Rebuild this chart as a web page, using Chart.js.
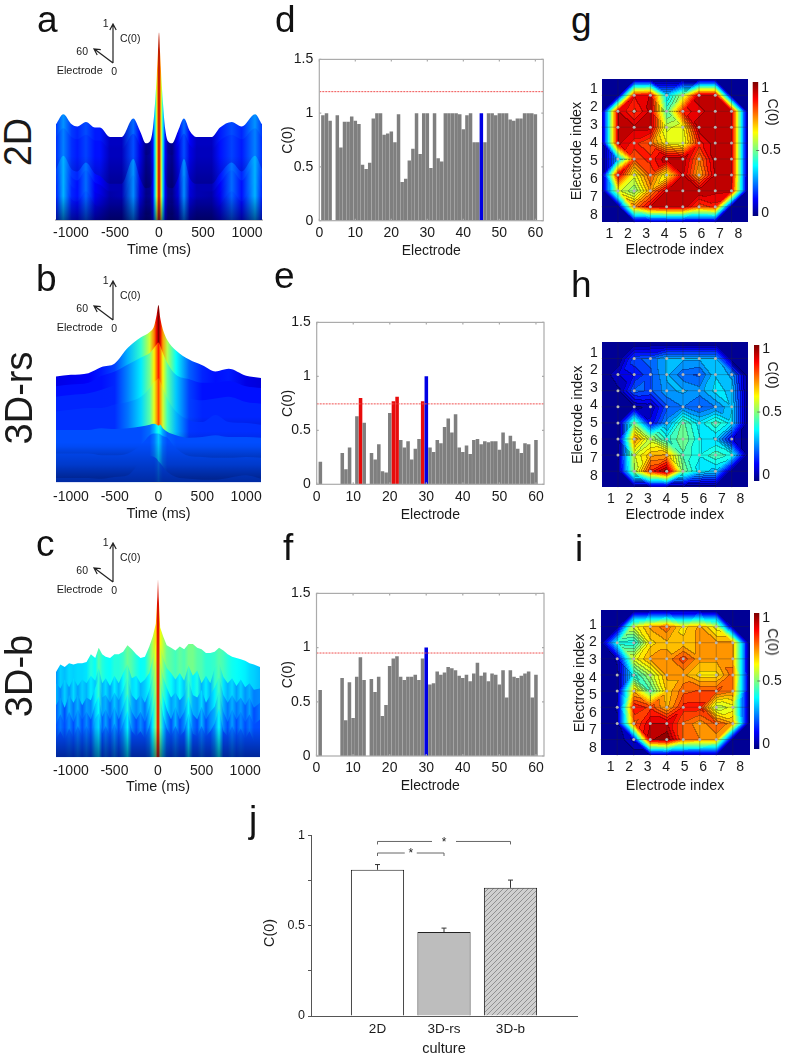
<!DOCTYPE html>
<html>
<head>
<meta charset="utf-8">
<title>C(0) panels</title>
<script src="https://cdn.jsdelivr.net/npm/chart.js@4"></script>
<style>
  html, body { margin: 0; padding: 0; background: #fff; }
  body { position: relative; width: 785px; height: 1058px; overflow: hidden; font-family: "Liberation Sans", Arial, sans-serif; color: #1a1a1a; }
  canvas { position: absolute; }
  .txt { position: absolute; white-space: nowrap; line-height: 1; }
</style>
</head>
<body>
<script>
// ---- bar panels d, e, f (electrode 1..60)
const electrodes = [1,2,3,4,5,6,7,8,9,10,11,12,13,14,15,16,17,18,19,20,21,22,23,24,25,26,27,28,29,30,31,32,33,34,35,36,37,38,39,40,41,42,43,44,45,46,47,48,49,50,51,52,53,54,55,56,57,58,59,60];
const barD = [.98,1,.93,0,.98,.68,.92,.92,.97,.93,.9,.52,.48,.54,.95,1,1,.8,.81,.83,.73,.99,.36,.39,.56,.67,1,.62,1,1,.49,1,.58,.55,1,1,1,1,.99,.85,.98,1,.73,.73,1,.73,1,1,.98,1,1,1,.94,.93,.95,.95,1,1,1,.99];
const barE = [.21,0,0,0,0,0,.29,.14,.34,0,.63,.8,.57,0,.29,.23,.37,.12,.11,.66,.77,.81,.41,.34,.4,.23,.33,.42,.77,1,.34,.3,.41,.38,.53,.61,.48,.65,.34,.3,.36,.28,.41,.42,.37,.4,.39,.4,.4,.32,.48,.38,.45,.4,.33,.29,.38,.37,.11,.41];
const barF = [.61,0,0,0,0,0,.72,.33,.68,.35,.73,.91,.7,0,.71,.59,.73,.37,.47,.83,.9,.92,.73,.7,.73,.73,.75,.7,.9,1,.66,.67,.78,.75,.77,.82,.81,.79,.74,.72,.75,.69,.76,.86,.74,.77,.69,.76,.75,.66,.79,.54,.79,.73,.72,.74,.76,.78,.54,.75];
const blueD = [45], blueE = [30], blueF = [30];
const redE = [12,21,22,29];
const limitD = 1.2, limitE = 0.745, limitF = 0.95;
const electrodeTicks = [0,10,20,30,40,50,60];
const c0Ticks = [0,0.5,1,1.5];

// ---- heat panels g, h, i (8 x 8 electrode map, rows top to bottom)
const heatG = [
  [0,.88,.92,.33,.55,.95,.95,0],
  [.92,.82,.93,.45,.85,.9,.95,.95],
  [.93,.93,.93,.57,.62,.95,.95,.95],
  [.93,.85,.78,.62,.58,.85,.95,.95],
  [.3,.8,.85,.95,.95,.75,.95,.95],
  [.92,.6,.8,.6,.92,.7,.93,.95],
  [.6,.5,.72,.93,.95,.95,.93,.92],
  [0,.75,.92,.95,.95,.8,.85,0]];
const heatH = [
  [0,.2,.22,.3,.3,.3,.3,0],
  [.08,.13,.2,.3,.22,.2,.33,.28],
  [.03,.22,.2,.28,.3,.27,.35,.32],
  [.02,.03,.05,.2,.25,.2,.25,.33],
  [.02,.5,.1,.27,.47,.35,.45,.35],
  [.02,.75,.55,.4,.5,.38,.33,.1],
  [.03,.58,.7,.72,.45,.38,.45,.4],
  [0,.55,.85,1,.5,.35,.32,0]];
const heatI = [
  [0,.6,.72,.78,.65,.72,.6,0],
  [.4,.38,.65,.7,.68,.72,.72,.72],
  [.05,.6,.72,.72,.82,.72,.72,.72],
  [.03,.4,.55,.72,.72,.65,.65,.78],
  [.03,.7,.45,.68,.78,.8,.8,.75],
  [.05,.88,.82,.7,.85,.85,.55,.6],
  [.03,.78,.92,.92,.78,.72,.8,.72],
  [0,.1,.95,1,.78,.75,.72,0]];
const indexTicks = [1,2,3,4,5,6,7,8];
const colorTicks = [0,0.5,1];

// ---- waterfall panels a, b, c (back layer first)
const timeTicks = [-1000,-500,0,500,1000];
const timeA = [-1170,-1087,-992,-928,-830,-727,-670,-557,-424,-292,-216,-148,-100,-70,-45,-25,-12,0,12,25,45,70,100,148,216,284,350,428,598,693,826,939,1091,1170];
const layerA0 = [.18,.27,.18,.16,.2,.15,.15,.065,.065,.23,.12,.01,.03,.14,.37,.62,.82,1,.82,.62,.37,.14,.03,.01,.12,.23,.12,.065,.065,.15,.2,.16,.27,.18];
const layerA1 = [.17,.25,.17,.15,.19,.14,.14,.06,.06,.2,.1,.01,.03,.13,.36,.6,.8,.97,.8,.6,.36,.13,.03,.01,.1,.2,.1,.06,.06,.14,.19,.15,.25,.17];
const layerA2 = [.18,.3,.18,.16,.24,.14,.12,.05,.05,.27,.1,.01,.02,.12,.35,.6,.8,.96,.8,.6,.35,.12,.02,.01,.1,.27,.1,.05,.05,.14,.24,.16,.3,.18];
const layerA3 = [.17,.3,.17,.14,.23,.12,.1,.04,.05,.27,.09,.01,.02,.12,.35,.6,.8,.96,.8,.6,.35,.12,.02,.01,.09,.27,.09,.05,.04,.12,.23,.14,.3,.17];
const layerA4 = [.16,.3,.16,.14,.23,.11,.09,.04,.04,.26,.08,.01,.02,.11,.34,.59,.8,.95,.8,.59,.34,.11,.02,.01,.08,.26,.08,.04,.04,.11,.23,.14,.3,.16];
const layerA5 = [.15,.3,.15,.13,.22,.1,.08,.03,.03,.26,.07,.01,.02,.11,.34,.58,.79,.95,.79,.58,.34,.11,.02,.01,.07,.26,.07,.03,.03,.1,.22,.13,.3,.15];
const offsetsA = [.676,.571,.274,.214,.14,.036];

const timeB = [-1170,-1000,-800,-650,-500,-350,-200,-100,-50,-20,0,20,50,100,200,350,500,650,800,1000,1170];
const layerB0 = [.18,.2,.22,.29,.33,.51,.63,.69,.76,.89,1,.85,.72,.6,.48,.375,.31,.24,.27,.19,.165];
const layerB1 = [.21,.23,.25,.33,.38,.46,.54,.59,.65,.69,.71,.67,.59,.48,.34,.29,.25,.25,.27,.21,.19];
const layerB2 = [.23,.25,.27,.31,.36,.42,.5,.55,.59,.6,.62,.59,.52,.42,.27,.21,.19,.21,.23,.17,.15];
const layerB3 = [.23,.25,.27,.27,.31,.34,.4,.5,.57,.59,.61,.57,.5,.38,.23,.13,.11,.19,.11,.1,.08];
const layerB4 = [.19,.19,.19,.21,.2,.21,.23,.25,.26,.25,.24,.25,.21,.17,.13,.1,.11,.13,.11,.11,.1];
const layerB5 = [.13,.13,.13,.11,.11,.13,.23,.34,.36,.36,.36,.35,.33,.31,.19,.1,.09,.08,.08,.09,.08];
const layerB6 = [.05,.05,.05,.04,.06,.08,.24,.3,.29,.27,.24,.22,.18,.12,.06,.04,.03,.03,.05,.08,.04];
const offsetsB = [1.03,.89,.75,.58,.41,.2,0];
const toneB = [.1,.11,.12,.15,.19,.3,.42,.58,.75,.9,1,.9,.72,.55,.38,.22,.16,.14,.15,.1,.09];
const toneScaleB = [1,.85,.85,.8,.4,.32,.24];
const toneFloorB = [.09,.14,.16,.17,.2,.2,.2];

const timeC = [-1170,-1120,-1070,-1020,-970,-920,-870,-820,-770,-720,-680,-640,-600,-550,-500,-450,-400,-350,-300,-250,-200,-150,-100,-60,-25,-8,0,8,25,60,100,150,200,250,300,350,400,450,500,550,600,650,700,750,800,850,900,950,1000,1050,1100,1170];
const layerC0 = [.27,.33,.31,.34,.33,.34,.34,.35,.41,.38,.46,.41,.39,.38,.41,.41,.43,.48,.45,.41,.38,.39,.47,.55,.65,.85,1,.85,.62,.55,.48,.46,.44,.47,.45,.49,.49,.46,.45,.42,.42,.43,.46,.44,.41,.39,.38,.37,.36,.34,.33,.31];
const layerC1 = [.3,.26,.33,.27,.34,.28,.33,.3,.36,.32,.42,.3,.34,.28,.36,.3,.38,.45,.34,.36,.3,.33,.38,.5,.62,.85,.98,.85,.6,.5,.42,.38,.33,.38,.32,.44,.36,.4,.3,.36,.3,.42,.46,.35,.3,.34,.28,.33,.27,.3,.25,.26];
const layerC2 = [.22,.28,.2,.3,.24,.3,.22,.28,.26,.36,.42,.28,.3,.24,.32,.26,.34,.44,.3,.26,.3,.24,.34,.46,.58,.85,.98,.85,.56,.44,.36,.28,.32,.26,.3,.42,.3,.28,.34,.24,.3,.36,.44,.3,.24,.3,.24,.28,.22,.28,.2,.24];
const layerC3 = [.16,.24,.16,.26,.18,.28,.2,.26,.2,.32,.38,.22,.28,.2,.3,.2,.3,.4,.26,.2,.26,.18,.3,.42,.55,.85,.98,.85,.52,.38,.28,.2,.3,.2,.26,.38,.24,.2,.3,.2,.26,.3,.42,.26,.18,.28,.2,.26,.18,.24,.16,.2];
const layerC4 = [.14,.2,.13,.22,.15,.24,.16,.24,.16,.3,.34,.18,.24,.16,.26,.16,.26,.36,.2,.16,.2,.14,.24,.36,.5,.82,.98,.82,.46,.32,.22,.16,.24,.16,.2,.34,.18,.16,.24,.16,.2,.26,.38,.2,.16,.24,.16,.22,.14,.2,.12,.16];
const offsetsC = [.398,.28,.188,.097,.005];

// ---- panel j
const cultures = ['', '2D', '3D-rs', '3D-b', ''];
const cultureMeans = [null, .81, .465, .71, null];
const cultureTops = [null, .839, .487, .753, null];
const meanTicks = [0,.25,.5,.75,1];
const meanLabels = ['0','','0.5','','1'];

Chart.defaults.font.family = '"Liberation Sans", Arial, sans-serif';
Chart.defaults.font.size = 14;
Chart.defaults.color = '#1a1a1a';
Chart.defaults.animation = false;
Chart.defaults.responsive = false;
Chart.defaults.devicePixelRatio = 1;
Chart.defaults.plugins.legend.display = false;
Chart.defaults.plugins.tooltip.enabled = false;
Chart.defaults.layout.autoPadding = false;

function addCanvas(x, y, w, h) {
  w = Math.ceil(w); h = Math.ceil(h);
  const c = document.createElement('canvas');
  c.width = w; c.height = h;
  c.style.left = x + 'px'; c.style.top = y + 'px';
  c.style.width = w + 'px'; c.style.height = h + 'px';
  document.body.appendChild(c);
  return c;
}
function addText(t, x, y, size, rot) {
  const d = document.createElement('div');
  d.className = 'txt';
  d.textContent = t;
  d.style.left = x + 'px'; d.style.top = y + 'px';
  d.style.fontSize = size + 'px';
  d.style.transform = 'translate(-50%,-50%)' + (rot ? ' rotate(' + rot + 'deg)' : '');
  document.body.appendChild(d);
}
// panel letters sit on a baseline
function addLetter(t, x, base) {
  const d = document.createElement('div');
  d.className = 'txt';
  d.textContent = t;
  d.style.left = x + 'px'; d.style.top = (base - 31.3) + 'px';
  d.style.fontSize = '37px';
  d.style.color = '#111';
  document.body.appendChild(d);
}
const setTicks = vals => axis => { axis.ticks = vals.map(v => ({ value: v })); };
const fitH = h => s => { s.height = h; };
const fitW = w => s => { s.width = w; };

function jet(v) {
  const cl = a => Math.max(0, Math.min(1, a));
  return [cl(Math.min(4 * v - 1.5, -4 * v + 4.5)) * 255,
          cl(Math.min(4 * v - 0.5, -4 * v + 3.5)) * 255,
          cl(Math.min(4 * v + 0.5, -4 * v + 2.5)) * 255];
}
const jetCss = v => { const c = jet(v); return 'rgb(' + c[0] + ',' + c[1] + ',' + c[2] + ')'; };

// grey box with little inward ticks
const framePlugin = {
  id: 'frame',
  afterDatasetsDraw(chart) {
    const a = chart.chartArea, c = chart.ctx, sx = chart.scales.x, sy = chart.scales.y;
    c.save();
    c.strokeStyle = '#ababab'; c.lineWidth = 1.2;
    c.strokeRect(a.left, a.top, a.right - a.left, a.bottom - a.top);
    c.beginPath();
    electrodeTicks.forEach(v => {
      const p = sx.getPixelForValue(v);
      c.moveTo(p, a.top); c.lineTo(p, a.top + 2);
      c.moveTo(p, a.bottom); c.lineTo(p, a.bottom - 2);
    });
    c0Ticks.forEach(v => {
      const p = sy.getPixelForValue(v);
      c.moveTo(a.left, p); c.lineTo(a.left + 2, p);
      c.moveTo(a.right, p); c.lineTo(a.right - 2, p);
    });
    c.stroke();
    c.restore();
  }
};

function barPanel(box, vals, blue, red, limit) {
  const cx = 280, cy = Math.floor(box.top) - 10, w = 270, axisH = 39;
  const cv = addCanvas(cx, cy, w, box.bottom + axisH - cy);
  const colors = electrodes.map(e => blue.includes(e) ? '#0000e4' : (red.includes(e) ? '#e80c0c' : '#7f7f7f'));
  new Chart(cv, {
    data: {
      datasets: [
        { type: 'line', data: [{ x: 0, y: limit }, { x: 62.2, y: limit }], borderColor: '#f05050', borderWidth: 1, borderDash: [2, 1], pointRadius: 0 },
        { type: 'bar', data: electrodes.map((e, i) => ({ x: e, y: vals[i] })), backgroundColor: colors, barPercentage: 0.97, categoryPercentage: 1, grouped: false }
      ]
    },
    options: {
      layout: { padding: { top: box.top - cy, right: cx + w - box.right, bottom: cv.height - (box.bottom - cy) - axisH } },
      scales: {
        x: { type: 'linear', min: 0, max: 62.2, offset: false, bounds: 'data', afterBuildTicks: setTicks(electrodeTicks), afterFit: fitH(axisH),
             grid: { display: false, drawTicks: false }, border: { display: false },
             ticks: { padding: 4, maxRotation: 0, autoSkip: false, font: { size: 14 } },
             title: { display: true, text: 'Electrode', padding: 0, font: { size: 14 } } },
        y: { min: 0, max: 1.5, bounds: 'data', afterBuildTicks: setTicks(c0Ticks), afterFit: fitW(box.left - cx),
             grid: { display: false, drawTicks: false }, border: { display: false },
             ticks: { padding: 6, autoSkip: false, callback: v => String(v), font: { size: 14 } },
             title: { display: true, text: 'C(0)', padding: 0, font: { size: 14 } } }
      }
    },
    plugins: [framePlugin]
  });
}

// filled contour map, nodes 1..8 with a zero rim at 0 and 9
function heatPlugin(vals) {
  const at = (r, c) => (r < 0 || r > 7 || c < 0 || c > 7) ? 0 : vals[r][c];
  const levels = 24;
  // each cell is cut into two triangles so the contours come out straight
  const sample = (u, v) => {
    const cf = Math.min(8, Math.floor(u)), rf = Math.min(8, Math.floor(v));
    const du = u - cf, dv = v - rf;
    const a = at(rf - 1, cf - 1), b = at(rf - 1, cf), c = at(rf, cf - 1), d = at(rf, cf);
    if (Math.abs(a - d) <= Math.abs(b - c)) {
      if (du >= dv) return a + du * (b - a) + dv * (d - b);
      return a + dv * (c - a) + du * (d - c);
    }
    if (du + dv <= 1) return a + du * (b - a) + dv * (c - a);
    return d + (1 - du) * (c - d) + (1 - dv) * (b - d);
  };
  return {
    id: 'heat',
    beforeDatasetsDraw(chart) {
      const a = chart.chartArea, sx = chart.scales.x2, sy = chart.scales.y2;
      const L = Math.round(a.left), T = Math.round(a.top);
      const W = Math.round(a.right - a.left), H = Math.round(a.bottom - a.top);
      const off = document.createElement('canvas');
      off.width = W; off.height = H;
      const oc = off.getContext('2d');
      const img = oc.createImageData(W, H);
      const field = new Float32Array(W * H);
      for (let y = 0; y < H; y++) {
        const v = sy.getValueForPixel(T + y + 0.5);
        for (let x = 0; x < W; x++) field[y * W + x] = sample(sx.getValueForPixel(L + x + 0.5), v);
      }
      for (let y = 0; y < H; y++) {
        for (let x = 0; x < W; x++) {
          const f = field[y * W + x], lv = Math.min(levels - 1, Math.floor(f * levels));
          let col = jet((lv + 0.5) / levels), k = 1;
          if (x > 0 && y > 0) {
            const fx = field[y * W + x - 1], fy = field[(y - 1) * W + x];
            const grad = Math.abs(f - fx) + Math.abs(f - fy);
            const lx = Math.floor(fx * levels), ly = Math.floor(fy * levels);
            if ((lx !== lv || ly !== lv) && grad < 0.035) k = 0.72;
          }
          const o = (y * W + x) * 4;
          img.data[o] = col[0] * k; img.data[o + 1] = col[1] * k; img.data[o + 2] = col[2] * k; img.data[o + 3] = 255;
        }
      }
      oc.putImageData(img, 0, 0);
      const c = chart.ctx;
      c.drawImage(off, L, T);
      c.save();
      c.strokeStyle = 'rgba(40,40,40,0.38)'; c.lineWidth = 0.8;
      c.beginPath();
      indexTicks.forEach(n => {
        const px = sx.getPixelForValue(n), py = sy.getPixelForValue(n);
        c.moveTo(px, a.top); c.lineTo(px, a.bottom);
        c.moveTo(a.left, py); c.lineTo(a.right, py);
      });
      c.stroke();
      c.restore();
    }
  };
}

function heatPanel(box, vals, xRange, yRange, tickY, axisH, titleX) {
  const cx = Math.floor(titleX - 8.5), cy = Math.floor(box.top) - 8;
  const cv = addCanvas(cx, cy, box.right - cx + 2, box.bottom + axisH - cy);
  const nodes = [];
  vals.forEach((row, r) => row.forEach((v, c) => { if (v > 0) nodes.push({ x: c + 1, y: r + 1 }); }));
  new Chart(cv, {
    type: 'scatter',
    data: { datasets: [{ data: nodes, xAxisID: 'x2', yAxisID: 'y2', pointRadius: 1.5, pointBorderWidth: 0, pointBackgroundColor: '#b4b4b4' }] },
    options: {
      layout: { padding: { top: box.top - cy, right: cx + cv.width - box.right, bottom: cv.height - (box.bottom - cy) - axisH } },
      scales: {
        x: { type: 'linear', min: xRange[0], max: xRange[1], bounds: 'data', afterBuildTicks: setTicks(indexTicks), afterFit: fitH(axisH),
             grid: { display: false, drawTicks: false }, border: { display: false },
             ticks: { padding: tickY, maxRotation: 0, autoSkip: false, callback: v => String(v), font: { size: 14 } },
             title: { display: true, text: 'Electrode index', padding: 0, font: { size: 14.3 } } },
        y: { type: 'linear', reverse: true, min: yRange[0], max: yRange[1], bounds: 'data', afterBuildTicks: setTicks(indexTicks), afterFit: fitW(box.left - cx),
             grid: { display: false, drawTicks: false }, border: { display: false },
             ticks: { padding: 4, autoSkip: false, callback: v => String(v), font: { size: 14 } },
             title: { display: true, text: 'Electrode index', padding: 0, font: { size: 14.3 } } },
        x2: { axis: 'x', type: 'linear', display: false, min: 0, max: 9 },
        y2: { axis: 'y', type: 'linear', display: false, reverse: true, min: 0, max: 9 }
      }
    },
    plugins: [heatPlugin(vals)]
  });
}

const colorBarPlugin = {
  id: 'colorBar',
  beforeDatasetsDraw(chart) {
    const a = chart.chartArea, c = chart.ctx, s = chart.scales.cb, t = chart.scales.y;
    for (let p = Math.round(a.top); p < a.bottom; p++) {
      c.fillStyle = jetCss(s.getValueForPixel(p + 0.5));
      c.fillRect(a.left, p, a.right - a.left, 1);
    }
    c.strokeStyle = '#555'; c.lineWidth = 0.8;
    c.beginPath();
    const p = t.getPixelForValue(0.5);
    c.moveTo(a.right - 2, p); c.lineTo(a.right + 1, p);
    c.stroke();
  }
};

function colorBar(left, right, top, bottom, range, titleY) {
  const cx = Math.floor(left) - 2, cy = Math.floor(top) - 4;
  const cv = addCanvas(cx, cy, 785 - cx, bottom - cy + 4);
  new Chart(cv, {
    type: 'scatter',
    data: { datasets: [] },
    options: {
      layout: { padding: { left: left - cx, top: top - cy, bottom: cv.height - (bottom - cy) } },
      scales: {
        x: { type: 'linear', display: false },
        y: { type: 'linear', position: 'right', min: range[0], max: range[1], bounds: 'data', afterBuildTicks: setTicks(colorTicks), afterFit: fitW(785 - right),
             grid: { display: false, drawTicks: false }, border: { display: false },
             ticks: { padding: 3, autoSkip: false, callback: v => String(v), font: { size: 14 } } },
        cb: { axis: 'y', type: 'linear', display: false, min: 0, max: 1 }
      }
    },
    plugins: [colorBarPlugin]
  });
  addText('C(0)', 773, titleY, 14, 90);
}

function waterfall(o) {
  const cx = 40, w = 250, box = o.box, axisH = o.axisH;
  const cy = Math.floor(box.top) - 6;
  const cv = addCanvas(cx, cy, w, box.bottom + axisH - cy);
  const sets = [];
  for (let k = o.layers.length - 1; k >= 0; k--) {
    const vals = o.layers[k], base = o.offsets[k];
    const pts = vals.map((v, i) => ({ x: o.time[i], y: base + v }));
    const line = { type: 'line', data: pts, pointRadius: 0, borderWidth: 0, fill: 'start', tension: o.tension, cubicInterpolationMode: o.mode };
    sets.push(Object.assign({}, line, {
      backgroundColor: ctx => {
        const ch = ctx.chart, a = ch.chartArea;
        if (!a) return 'rgba(0,0,0,0)';
        const g = ch.ctx.createLinearGradient(0, ch.scales.y.getPixelForValue(base), 0, ch.scales.y.getPixelForValue(base) + o.band);
        g.addColorStop(0, 'rgba(0,0,40,0)');
        g.addColorStop(1, 'rgba(0,0,40,' + o.shade + ')');
        return g;
      }
    }));
    sets.push(Object.assign({}, line, {
      backgroundColor: ctx => {
        const ch = ctx.chart, a = ch.chartArea;
        if (!a) return '#00008f';
        const g = ch.ctx.createLinearGradient(a.left, 0, a.right, 0);
        o.time.forEach((t, i) => {
          const f = (ch.scales.x.getPixelForValue(t) - a.left) / (a.right - a.left);
          let tone = Math.max(vals[i], o.minTone || 0);
          if (o.tone) tone = Math.max(o.toneFloor[k], o.tone[i] * o.toneScale[k]);
          g.addColorStop(Math.max(0, Math.min(1, f)), jetCss(tone));
        });
        return g;
      }
    }));
  }
  new Chart(cv, {
    data: { datasets: sets },
    options: {
      layout: { padding: { left: box.left - cx, right: cx + w - box.right, top: box.top - cy, bottom: cv.height - (box.bottom - cy) - axisH } },
      scales: {
        x: { type: 'linear', min: -1170, max: 1170, bounds: 'data', afterBuildTicks: setTicks(timeTicks), afterFit: fitH(axisH),
             grid: { display: false, drawTicks: false }, border: { display: o.rule, color: '#c4c4c4', width: 2 },
             ticks: { padding: o.tickPad, maxRotation: 0, autoSkip: false, callback: v => String(v), font: { size: 14 } },
             title: { display: true, text: 'Time (ms)', padding: 0, font: { size: 14.4 } } },
        y: { type: 'linear', display: false, min: 0, max: o.yMax }
      }
    },
    plugins: [{
      id: 'fade',
      afterDatasetsDraw(chart) {
        const a = chart.chartArea, c = chart.ctx;
        const g = c.createLinearGradient(0, a.bottom - o.fade, 0, a.bottom);
        g.addColorStop(0, 'rgba(0,0,50,0)');
        g.addColorStop(1, 'rgba(0,0,50,' + o.fadeAlpha + ')');
        c.save();
        c.beginPath(); c.rect(a.left, a.top, a.right - a.left, a.bottom - a.top); c.clip();
        c.globalCompositeOperation = 'source-atop';
        c.fillStyle = g;
        c.fillRect(a.left, a.bottom - o.fade, a.right - a.left, o.fade);
        c.restore();
      }
    }]
  });
}

// arrows of the small C(0)/Electrode triad
function triad(oy) {
  const ox = 112.7;
  const ns = 'http://www.w3.org/2000/svg';
  const s = document.createElementNS(ns, 'svg');
  s.setAttribute('width', 60); s.setAttribute('height', 60);
  s.style.position = 'absolute'; s.style.left = (ox - 30) + 'px'; s.style.top = (oy - 45) + 'px';
  s.innerHTML = '<path d="M30 45 L30 7 M26.8 12 L30 6 L33.2 12 M30 45 L12 31.5 M14.2 37 L11 31 L17.8 31.6" fill="none" stroke="#222" stroke-width="1.2"/>';
  document.body.appendChild(s);
  addText('1', ox - 7, oy - 40, 10.5);
  addText('C(0)', ox + 17.5, oy - 25, 10.5);
  addText('60', ox - 30.5, oy - 12, 10.5);
  addText('Electrode', ox - 33, oy + 6.5, 10.9);
  addText('0', ox + 1.5, oy + 8, 10.5);
}

waterfall({ box: { left: 56, right: 262, top: 32, bottom: 220 }, axisH: 39, time: timeA, layers: [layerA0, layerA1, layerA2, layerA3, layerA4, layerA5], offsets: offsetsA, yMax: 1.68, tension: 0.4, mode: 'monotone', shade: 0.28, band: 30, fade: 24, fadeAlpha: 0.5, rule: true, tickPad: 5 });
waterfall({ box: { left: 56, right: 261, top: 305, bottom: 482.3 }, axisH: 40, time: timeB, layers: [layerB0, layerB1, layerB2, layerB3, layerB4, layerB5, layerB6], offsets: offsetsB, yMax: 2.03, tension: 0.4, mode: 'monotone', tone: toneB, toneScale: toneScaleB, toneFloor: toneFloorB, shade: 0.25, band: 18, fade: 40, fadeAlpha: 0.45, rule: false, tickPad: 6 });
waterfall({ box: { left: 56, right: 260, top: 579, bottom: 757.3 }, axisH: 38, time: timeC, layers: [layerC0, layerC1, layerC2, layerC3, layerC4], offsets: offsetsC, yMax: 1.398, tension: 0, mode: 'default', minTone: 0.2, shade: 0.1, band: 30, fade: 30, fadeAlpha: 0.5, rule: false, tickPad: 5 });
triad(63); triad(320); triad(582.3);

barPanel({ left: 319.3, right: 543.3, top: 55, bottom: 220.7 }, barD, blueD, [], limitD);
barPanel({ left: 316.7, right: 544, top: 318, bottom: 484.3 }, barE, blueE, redE, limitE);
barPanel({ left: 316.5, right: 544, top: 589.3, bottom: 756 }, barF, blueF, [], limitF);

heatPanel({ left: 601.7, right: 747.7, top: 75.7, bottom: 222.7 }, heatG, [.584, 8.506], [.44, 8.416], 3, 36, 577);
heatPanel({ left: 601.7, right: 748, top: 338.3, bottom: 487.3 }, heatH, [.51, 8.415], [.41, 8.645], 3, 36, 578);
heatPanel({ left: 600.7, right: 749.3, top: 606.7, bottom: 755.7 }, heatI, [.46, 8.5], [.17, 8.44], 3, 38.5, 580);
colorBar(752.7, 758.2, 75.7, 222.7, [-.019, 1.043], 112);
colorBar(754, 759.3, 338.3, 487.3, [-.045, 1.03], 375);
colorBar(754, 759.3, 606.7, 755.7, [-.035, 1.035], 641.7);

// panel j
function hatch() {
  const t = document.createElement('canvas');
  t.width = 5; t.height = 5;
  const c = t.getContext('2d');
  c.fillStyle = '#cfcfcf'; c.fillRect(0, 0, 5, 5);
  c.strokeStyle = '#8a8a8a'; c.lineWidth = 0.9;
  c.beginPath();
  c.moveTo(-1, 6); c.lineTo(6, -1);
  c.moveTo(-1, 1); c.lineTo(1, -1);
  c.moveTo(4, 6); c.lineTo(6, 4);
  c.stroke();
  return c.createPattern(t, 'repeat');
}
const brackets = [
  { from: 1, to: 3, y: 0.967, gap: 12 },
  { from: 1, to: 2, y: 0.903, gap: 6 }
];
const extrasPlugin = {
  id: 'extras',
  afterDatasetsDraw(chart) {
    const c = chart.ctx, sx = chart.scales.x, sy = chart.scales.y;
    c.save();
    c.strokeStyle = '#333'; c.lineWidth = 1;
    cultureTops.forEach((v, i) => {
      if (v === null) return;
      const p = sx.getPixelForValue(i);
      c.beginPath();
      c.moveTo(p, sy.getPixelForValue(cultureMeans[i])); c.lineTo(p, sy.getPixelForValue(v));
      c.moveTo(p - 2.5, sy.getPixelForValue(v)); c.lineTo(p + 2.5, sy.getPixelForValue(v));
      c.stroke();
    });
    c.strokeStyle = '#666';
    c.fillStyle = '#222';
    c.font = '12px "Liberation Sans"';
    c.textAlign = 'center'; c.textBaseline = 'middle';
    brackets.forEach(b => {
      const a1 = sx.getPixelForValue(b.from), a2 = sx.getPixelForValue(b.to), y = sy.getPixelForValue(b.y), m = (a1 + a2) / 2;
      c.beginPath();
      c.moveTo(a1, y + 3); c.lineTo(a1, y); c.lineTo(m - b.gap, y);
      c.moveTo(m + b.gap, y); c.lineTo(a2, y); c.lineTo(a2, y + 3);
      c.stroke();
      c.fillText('*', m, y + 1);
    });
    c.restore();
  }
};
const cvJ = addCanvas(262, 825, 323, 233);
new Chart(cvJ, {
  type: 'bar',
  data: {
    labels: cultures,
    datasets: [{
      data: cultureMeans,
      backgroundColor: ['#fff', '#fff', '#bdbdbd', hatch(), '#fff'],
      borderColor: '#222', borderWidth: 1, barPercentage: 1, categoryPercentage: 0.8
    }]
  },
  options: {
    layout: { padding: { top: 8.3, right: 8 } },
    scales: {
      x: { offset: false, afterFit: fitH(42), grid: { display: false, drawTicks: false }, border: { display: true, color: '#555', width: 1 },
           ticks: { padding: 5, maxRotation: 0, autoSkip: false, font: { size: 13.5 } },
           title: { display: true, text: 'culture', padding: 0, font: { size: 14.5 } } },
      y: { min: 0, max: 1, bounds: 'data', afterBuildTicks: setTicks(meanTicks), afterFit: fitW(49),
           grid: { drawOnChartArea: false, drawTicks: true, tickLength: 3, color: '#555' }, border: { display: true, color: '#555', width: 1 },
           ticks: { padding: 3, autoSkip: false, callback: (v, i) => meanLabels[i], font: { size: 12.5 } } }
    }
  },
  plugins: [extrasPlugin]
});
addText('C(0)', 269, 933, 14.4, -90);

// panel letters and row names
addLetter('a', 37, 32); addLetter('b', 36, 291); addLetter('c', 36, 556.7);
addLetter('d', 275, 32); addLetter('e', 274, 288); addLetter('f', 283, 560);
addLetter('g', 571, 33); addLetter('h', 571, 297); addLetter('i', 575, 561);
addLetter('j', 249, 832);
addText('2D', 18, 142, 38, -90);
addText('3D-rs', 19, 398, 38, -90);
addText('3D-b', 19, 675.7, 38, -90);
</script>
</body>
</html>
